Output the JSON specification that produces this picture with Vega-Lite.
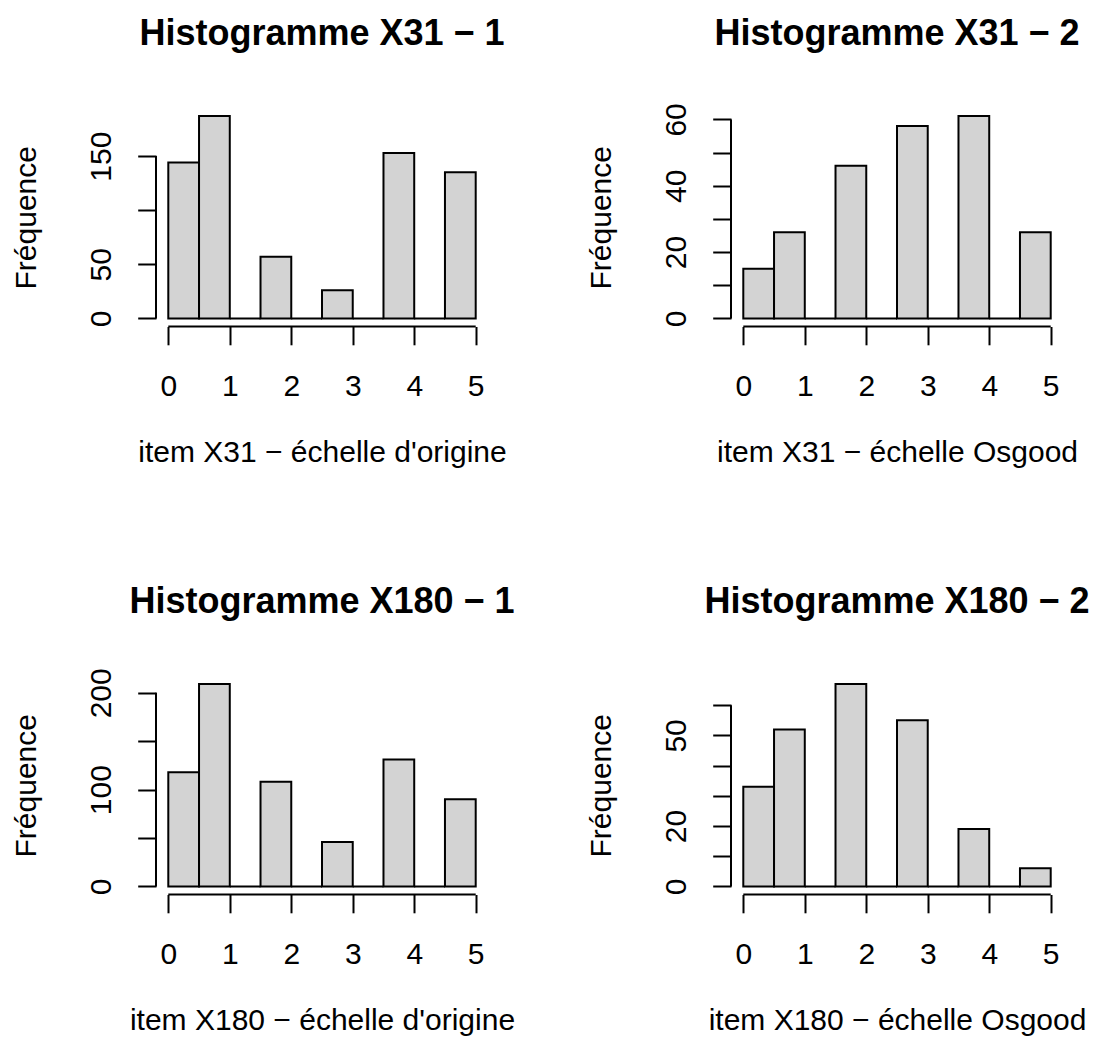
{
  "$schema": "https://vega.github.io/schema/vega-lite/v6.json",
  "background": "white",
  "padding": {"left": 11, "top": 15, "right": 5, "bottom": 5},
  "datasets": {
    "x31_1": [
      {"start": 0.0, "end": 0.5, "n": 144}, {"start": 0.5, "end": 1.0, "n": 187},
      {"start": 1.0, "end": 1.5, "n": 0}, {"start": 1.5, "end": 2.0, "n": 57},
      {"start": 2.0, "end": 2.5, "n": 0}, {"start": 2.5, "end": 3.0, "n": 26},
      {"start": 3.0, "end": 3.5, "n": 0}, {"start": 3.5, "end": 4.0, "n": 153},
      {"start": 4.0, "end": 4.5, "n": 0}, {"start": 4.5, "end": 5.0, "n": 135}
    ],
    "x31_2": [
      {"start": 0.0, "end": 0.5, "n": 15}, {"start": 0.5, "end": 1.0, "n": 26},
      {"start": 1.0, "end": 1.5, "n": 0}, {"start": 1.5, "end": 2.0, "n": 46},
      {"start": 2.0, "end": 2.5, "n": 0}, {"start": 2.5, "end": 3.0, "n": 58},
      {"start": 3.0, "end": 3.5, "n": 0}, {"start": 3.5, "end": 4.0, "n": 61},
      {"start": 4.0, "end": 4.5, "n": 0}, {"start": 4.5, "end": 5.0, "n": 26}
    ],
    "x180_1": [
      {"start": 0.0, "end": 0.5, "n": 118}, {"start": 0.5, "end": 1.0, "n": 209},
      {"start": 1.0, "end": 1.5, "n": 0}, {"start": 1.5, "end": 2.0, "n": 108},
      {"start": 2.0, "end": 2.5, "n": 0}, {"start": 2.5, "end": 3.0, "n": 46},
      {"start": 3.0, "end": 3.5, "n": 0}, {"start": 3.5, "end": 4.0, "n": 131},
      {"start": 4.0, "end": 4.5, "n": 0}, {"start": 4.5, "end": 5.0, "n": 90}
    ],
    "x180_2": [
      {"start": 0.0, "end": 0.5, "n": 33}, {"start": 0.5, "end": 1.0, "n": 52},
      {"start": 1.0, "end": 1.5, "n": 0}, {"start": 1.5, "end": 2.0, "n": 67},
      {"start": 2.0, "end": 2.5, "n": 0}, {"start": 2.5, "end": 3.0, "n": 55},
      {"start": 3.0, "end": 3.5, "n": 0}, {"start": 3.5, "end": 4.0, "n": 19},
      {"start": 4.0, "end": 4.5, "n": 0}, {"start": 4.5, "end": 5.0, "n": 6}
    ]
  },
  "columns": 2,
  "spacing": {"row": 349, "column": 243},
  "bounds": "flush",
  "concat": [
    {
      "width": 332, "height": 218.5,
      "title": {"text": "Histogramme X31 − 1", "offset": 55.2},
      "layer": [
        {
          "data": {"name": "x31_1"},
          "mark": {"type": "rect", "fill": "#d3d3d3", "stroke": "black", "strokeWidth": 2},
          "encoding": {
            "x": {"field": "start", "type": "quantitative",
                  "scale": {"domain": [-0.2, 5.2], "nice": false, "zero": false},
                  "axis": {"values": [0, 1, 2, 3, 4, 5], "tickCount": 20, "format": "d", "title": "item X31 − échelle d'origine"}},
            "x2": {"field": "end"},
            "y": {"field": "n", "type": "quantitative",
                  "scale": {"domain": [-7.48, 194.48], "nice": false, "zero": false},
                  "axis": {"values": [0, 50, 100, 150], "tickCount": 20, "format": "d", "labelExpr": "datum.value == 100 ? '' : datum.label", "title": "Fréquence"}},
            "y2": {"datum": 0}
          }
        },
        {
          "data": {"values": [{}]},
          "mark": {"type": "rule", "stroke": "black", "strokeWidth": 2},
          "encoding": {"x": {"datum": 0}, "x2": {"datum": 5}, "y": {"datum": -7.48}}
        },
        {
          "data": {"values": [{}]},
          "mark": {"type": "rule", "stroke": "black", "strokeWidth": 2},
          "encoding": {"x": {"datum": -0.2}, "y": {"datum": 0}, "y2": {"datum": 150}}
        }
      ]
    },
    {
      "width": 332, "height": 218.5,
      "title": {"text": "Histogramme X31 − 2", "offset": 49.9},
      "layer": [
        {
          "data": {"name": "x31_2"},
          "mark": {"type": "rect", "fill": "#d3d3d3", "stroke": "black", "strokeWidth": 2},
          "encoding": {
            "x": {"field": "start", "type": "quantitative",
                  "scale": {"domain": [-0.2, 5.2], "nice": false, "zero": false},
                  "axis": {"values": [0, 1, 2, 3, 4, 5], "tickCount": 20, "format": "d", "title": "item X31 − échelle Osgood"}},
            "x2": {"field": "end"},
            "y": {"field": "n", "type": "quantitative",
                  "scale": {"domain": [-2.44, 63.44], "nice": false, "zero": false},
                  "axis": {"values": [0, 10, 20, 30, 40, 50, 60], "tickCount": 20, "format": "d", "labelExpr": "datum.value == 0 || datum.value == 20 || datum.value == 40 || datum.value == 60 ? datum.label : ''", "title": "Fréquence"}},
            "y2": {"datum": 0}
          }
        },
        {
          "data": {"values": [{}]},
          "mark": {"type": "rule", "stroke": "black", "strokeWidth": 2},
          "encoding": {"x": {"datum": 0}, "x2": {"datum": 5}, "y": {"datum": -2.44}}
        },
        {
          "data": {"values": [{}]},
          "mark": {"type": "rule", "stroke": "black", "strokeWidth": 2},
          "encoding": {"x": {"datum": -0.2}, "y": {"datum": 0}, "y2": {"datum": 60}}
        }
      ]
    },
    {
      "width": 332, "height": 218.5,
      "title": {"text": "Histogramme X180 − 1", "offset": 47.0},
      "layer": [
        {
          "data": {"name": "x180_1"},
          "mark": {"type": "rect", "fill": "#d3d3d3", "stroke": "black", "strokeWidth": 2},
          "encoding": {
            "x": {"field": "start", "type": "quantitative",
                  "scale": {"domain": [-0.2, 5.2], "nice": false, "zero": false},
                  "axis": {"values": [0, 1, 2, 3, 4, 5], "tickCount": 20, "format": "d", "title": "item X180 − échelle d'origine"}},
            "x2": {"field": "end"},
            "y": {"field": "n", "type": "quantitative",
                  "scale": {"domain": [-8.36, 217.36], "nice": false, "zero": false},
                  "axis": {"values": [0, 50, 100, 150, 200], "tickCount": 20, "format": "d", "labelExpr": "datum.value == 0 || datum.value == 100 || datum.value == 200 ? datum.label : ''", "title": "Fréquence"}},
            "y2": {"datum": 0}
          }
        },
        {
          "data": {"values": [{}]},
          "mark": {"type": "rule", "stroke": "black", "strokeWidth": 2},
          "encoding": {"x": {"datum": 0}, "x2": {"datum": 5}, "y": {"datum": -8.36}}
        },
        {
          "data": {"values": [{}]},
          "mark": {"type": "rule", "stroke": "black", "strokeWidth": 2},
          "encoding": {"x": {"datum": -0.2}, "y": {"datum": 0}, "y2": {"datum": 200}}
        }
      ]
    },
    {
      "width": 332, "height": 218.5,
      "title": {"text": "Histogramme X180 − 2", "offset": 55.2},
      "layer": [
        {
          "data": {"name": "x180_2"},
          "mark": {"type": "rect", "fill": "#d3d3d3", "stroke": "black", "strokeWidth": 2},
          "encoding": {
            "x": {"field": "start", "type": "quantitative",
                  "scale": {"domain": [-0.2, 5.2], "nice": false, "zero": false},
                  "axis": {"values": [0, 1, 2, 3, 4, 5], "tickCount": 20, "format": "d", "title": "item X180 − échelle Osgood"}},
            "x2": {"field": "end"},
            "y": {"field": "n", "type": "quantitative",
                  "scale": {"domain": [-2.68, 69.68], "nice": false, "zero": false},
                  "axis": {"values": [0, 10, 20, 30, 40, 50, 60], "tickCount": 20, "format": "d", "labelExpr": "datum.value == 0 || datum.value == 20 || datum.value == 50 ? datum.label : ''", "title": "Fréquence"}},
            "y2": {"datum": 0}
          }
        },
        {
          "data": {"values": [{}]},
          "mark": {"type": "rule", "stroke": "black", "strokeWidth": 2},
          "encoding": {"x": {"datum": 0}, "x2": {"datum": 5}, "y": {"datum": -2.68}}
        },
        {
          "data": {"values": [{}]},
          "mark": {"type": "rule", "stroke": "black", "strokeWidth": 2},
          "encoding": {"x": {"datum": -0.2}, "y": {"datum": 0}, "y2": {"datum": 60}}
        }
      ]
    }
  ],
  "config": {
    "view": {"stroke": null},
    "font": "Liberation Sans",
    "title": {
      "font": "Liberation Sans", "fontSize": 36, "fontWeight": "bold", "color": "black",
      "anchor": "middle", "frame": "group", "baseline": "alphabetic"
    },
    "axis": {
      "domain": false, "grid": false,
      "ticks": true, "tickColor": "black", "tickWidth": 2, "tickSize": 18.3,
      "labelFont": "Liberation Sans", "labelFontSize": 30, "labelColor": "black",
      "labelFlush": false, "labelOverlap": false,
      "titleFont": "Liberation Sans", "titleFontSize": 30, "titleFontWeight": "normal", "titleColor": "black"
    },
    "axisX": {
      "labelAngle": 0, "labelAlign": "center", "labelBaseline": "alphabetic", "labelPadding": 50.3,
      "titleAngle": 0, "titleAlign": "center", "titleBaseline": "alphabetic", "titleX": 166, "titleY": 134.6
    },
    "axisY": {
      "labelAngle": 270, "labelAlign": "center", "labelBaseline": "alphabetic", "labelPadding": 27.7,
      "titleAngle": 270, "titleAlign": "center", "titleBaseline": "alphabetic", "titleX": -121, "titleY": 109.25
    }
  }
}
